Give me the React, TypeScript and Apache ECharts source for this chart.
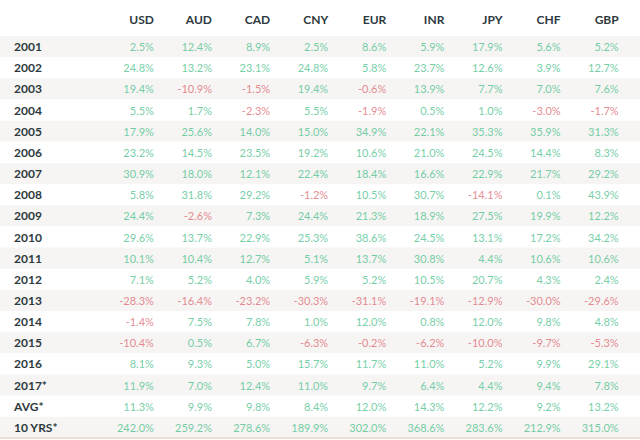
import React, { useEffect, useRef } from "react";
import * as echarts from "echarts";

const currencies = ["USD", "AUD", "CAD", "CNY", "EUR", "INR", "JPY", "CHF", "GBP"];
const rowLabels = [
  "2001", "2002", "2003", "2004", "2005", "2006", "2007", "2008", "2009", "2010",
  "2011", "2012", "2013", "2014", "2015", "2016", "2017*", "AVG*", "10 YRS*",
];

const usd = [2.5, 24.8, 19.4, 5.5, 17.9, 23.2, 30.9, 5.8, 24.4, 29.6, 10.1, 7.1, -28.3, -1.4, -10.4, 8.1, 11.9, 11.3, 242.0];
const aud = [12.4, 13.2, -10.9, 1.7, 25.6, 14.5, 18.0, 31.8, -2.6, 13.7, 10.4, 5.2, -16.4, 7.5, 0.5, 9.3, 7.0, 9.9, 259.2];
const cad = [8.9, 23.1, -1.5, -2.3, 14.0, 23.5, 12.1, 29.2, 7.3, 22.9, 12.7, 4.0, -23.2, 7.8, 6.7, 5.0, 12.4, 9.8, 278.6];
const cny = [2.5, 24.8, 19.4, 5.5, 15.0, 19.2, 22.4, -1.2, 24.4, 25.3, 5.1, 5.9, -30.3, 1.0, -6.3, 15.7, 11.0, 8.4, 189.9];
const eur = [8.6, 5.8, -0.6, -1.9, 34.9, 10.6, 18.4, 10.5, 21.3, 38.6, 13.7, 5.2, -31.1, 12.0, -0.2, 11.7, 9.7, 12.0, 302.0];
const inr = [5.9, 23.7, 13.9, 0.5, 22.1, 21.0, 16.6, 30.7, 18.9, 24.5, 30.8, 10.5, -19.1, 0.8, -6.2, 11.0, 6.4, 14.3, 368.6];
const jpy = [17.9, 12.6, 7.7, 1.0, 35.3, 24.5, 22.9, -14.1, 27.5, 13.1, 4.4, 20.7, -12.9, 12.0, -10.0, 5.2, 4.4, 12.2, 283.6];
const chf = [5.6, 3.9, 7.0, -3.0, 35.9, 14.4, 21.7, 0.1, 19.9, 17.2, 10.6, 4.3, -30.0, 9.8, -9.7, 9.9, 9.4, 9.2, 212.9];
const gbp = [5.2, 12.7, 7.6, -1.7, 31.3, 8.3, 29.2, 43.9, 12.2, 34.2, 10.6, 2.4, -29.6, 4.8, -5.3, 29.1, 7.8, 13.2, 315.0];

const columns = [usd, aud, cad, cny, eur, inr, jpy, chf, gbp];

const GREEN = "#4fc28f";
const RED = "#e06c75";
const DARK = "#2e3a40";

export default function App() {
  const ref = useRef<HTMLDivElement>(null);
  useEffect(() => {
    if (!ref.current) return;
    const chart = echarts.init(ref.current, undefined, { renderer: "svg" });
    const series = columns.map((vals, ci) => ({
      type: "scatter",
      name: currencies[ci],
      xAxisIndex: 0,
      yAxisIndex: 0,
      symbolSize: 0,
      silent: true,
      data: vals.map((v, r) => ({
        value: [ci, r, v],
        label: { color: v < 0 ? RED : GREEN },
      })),
      label: {
        show: true,
        position: "left",
        distance: 0,
        align: "right",
        verticalAlign: "middle",
        fontFamily: "Lato",
        fontSize: 11,
        formatter: (p: any) => p.value[2].toFixed(1) + "%",
      },
    }));
    chart.setOption({
      animation: false,
      backgroundColor: "#ffffff",
      grid: { left: 0, right: 0, top: 36, height: 402 },
      xAxis: [
        {
          type: "value",
          position: "top",
          min: -2.649,
          max: 8.367,
          axisLine: { show: false },
          axisTick: { show: false },
          splitLine: { show: false },
          axisLabel: {
            customValues: currencies.map((_, i) => i),
            formatter: (v: number) => currencies[Math.round(v)] ?? "",
            align: "right",
            verticalAlign: "middle",
            margin: 17,
            color: DARK,
            fontFamily: "Lato",
            fontWeight: "bold",
            fontSize: 12,
          },
        },
        {
          type: "value",
          position: "bottom",
          min: -2.649,
          max: 8.367,
          axisLine: { show: true, lineStyle: { color: "#eadfd2", width: 2 } },
          axisTick: { show: false },
          axisLabel: { show: false },
          splitLine: { show: false },
        },
      ],
      yAxis: {
        type: "category",
        inverse: true,
        data: rowLabels,
        axisLine: { show: false },
        axisTick: { show: false },
        splitLine: { show: false },
        splitArea: { show: true, areaStyle: { color: ["#f6f5f3", "#ffffff"] } },
        axisLabel: {
          inside: true,
          align: "left",
          margin: 14,
          color: DARK,
          fontFamily: "Lato",
          fontWeight: "bold",
          fontSize: 12,
        },
      },
      series,
    });
    return () => chart.dispose();
  }, []);
  return (
    <div
      ref={ref}
      style={{ position: "fixed", left: 0, top: 0, width: 640, height: 440 }}
    />
  );
}
